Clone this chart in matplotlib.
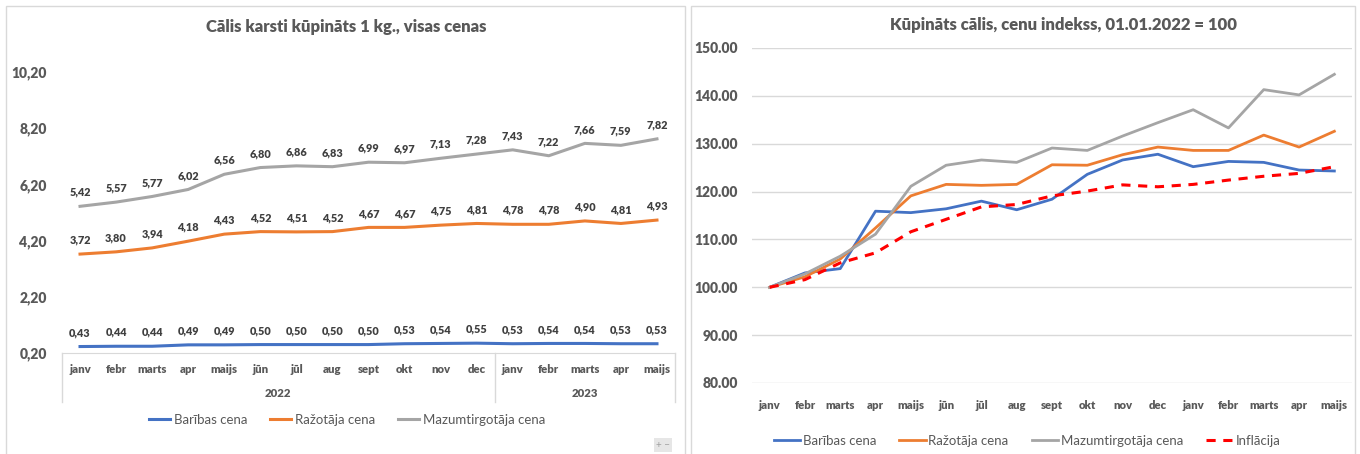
import matplotlib
matplotlib.use('Agg')
import matplotlib.pyplot as plt
from matplotlib.patches import Rectangle
from matplotlib.lines import Line2D

plt.rcParams['font.family'] = ['Lato', 'DejaVu Sans']

W, H = 1360, 454
HEAVY = 800

months = ['janv', 'febr', 'marts', 'apr', 'maijs', 'jūn', 'jūl', 'aug', 'sept',
          'okt', 'nov', 'dec', 'janv', 'febr', 'marts', 'apr', 'maijs']
years = ['2022', '2023']
year_counts = [12, 5]

# left chart: prices, EUR per kg
feed_price = [0.43, 0.44, 0.44, 0.49, 0.49, 0.50, 0.50, 0.50, 0.50,
              0.53, 0.54, 0.55, 0.53, 0.54, 0.54, 0.53, 0.53]
producer_price = [3.72, 3.80, 3.94, 4.18, 4.43, 4.52, 4.51, 4.52, 4.67,
                  4.67, 4.75, 4.81, 4.78, 4.78, 4.90, 4.81, 4.93]
retail_price = [5.42, 5.57, 5.77, 6.02, 6.56, 6.80, 6.86, 6.83, 6.99,
                6.97, 7.13, 7.28, 7.43, 7.22, 7.66, 7.59, 7.82]

# right chart: index, 01.01.2022 = 100
feed_index = [100.0, 103.0, 103.9, 115.9, 115.6, 116.4, 118.0, 116.2, 118.4,
              123.6, 126.6, 127.8, 125.2, 126.3, 126.1, 124.5, 124.3]
producer_index = [100.0, 102.2, 105.9, 112.4, 119.1, 121.5, 121.3, 121.5, 125.6,
                  125.5, 127.7, 129.3, 128.6, 128.6, 131.8, 129.3, 132.6]
retail_index = [100.0, 102.8, 106.5, 111.1, 121.1, 125.5, 126.6, 126.1, 129.1,
                128.6, 131.6, 134.4, 137.1, 133.3, 141.3, 140.2, 144.5]
inflation_index = [100.0, 101.6, 105.1, 107.2, 111.6, 114.2, 116.8, 117.3, 119.1,
                   120.1, 121.4, 121.0, 121.5, 122.4, 123.2, 123.8, 125.2]

BLUE = '#4472C4'
ORANGE = '#ED7D31'
GRAY = '#A5A5A5'
RED = '#FF0000'
TXT = '#595959'
LBL = '#404040'
GRID = '#D9D9D9'


def fig_rect(x0, y0, x1, y1):
    '''pixel box (top-left origin) to figure fraction rect'''
    return [x0 / W, 1 - y1 / H, (x1 - x0) / W, (y1 - y0) / H]


fig = plt.figure(figsize=(W / 100, H / 100), dpi=100)
fig.patch.set_facecolor('white')

# panel borders
for x0, x1 in [(6, 685), (691, 1355)]:
    fig.add_artist(Rectangle((x0 / W, -0.05), (x1 - x0) / W, 1.05 - 6 / H,
                             transform=fig.transFigure, fill=False,
                             ec=GRID, lw=1))

x = list(range(len(months)))

# ---------------- left chart ----------------
ax = fig.add_axes(fig_rect(62, 72, 675, 353))
ax.plot(x, feed_price, color=BLUE, lw=2.2, label='Barības cena')
ax.plot(x, producer_price, color=ORANGE, lw=2.2, label='Ražotāja cena')
ax.plot(x, retail_price, color=GRAY, lw=2.2, label='Mazumtirgotāja cena')
for series in (feed_price, producer_price, retail_price):
    for i, v in enumerate(series):
        ax.annotate(f'{v:.2f}'.replace('.', ','), (i, v), xytext=(0, 10),
                    textcoords='offset points', ha='center', va='center',
                    fontsize=7.8, fontweight=HEAVY, color=LBL)
ax.set_xlim(-0.5, len(months) - 0.5)
ax.set_ylim(0.2, 10.2)
yt = [0.2 + 2 * k for k in range(6)]
ax.set_yticks(yt)
ax.set_yticklabels([f'{v:.2f}'.replace('.', ',') for v in yt],
                   fontsize=10, fontweight=HEAVY, color=TXT)
ax.set_xticks(x)
ax.set_xticklabels(months, fontsize=8.2, fontweight=HEAVY, color=TXT)
ax.tick_params(axis='y', length=0, pad=11)
ax.tick_params(axis='x', length=0, pad=8)
for s in ('top', 'right', 'left'):
    ax.spines[s].set_visible(False)
ax.spines['bottom'].set_color(GRID)
# category group box and year labels
box_bottom = -(402 - 353) / (353 - 72)
trans = ax.get_xaxis_transform()
start = 0
bounds = [-0.5]
for yr, n in zip(years, year_counts):
    ax.text(start + (n - 1) / 2, -(393 - 353) / (353 - 72), yr, transform=trans,
            ha='center', va='center', fontsize=8.2, fontweight=HEAVY, color=TXT)
    start += n
    bounds.append(start - 0.5)
for b in bounds:
    ax.add_line(Line2D([b, b], [0, box_bottom], transform=trans, color=GRID,
                       lw=1, clip_on=False))
ax.set_title('Cālis karsti kūpināts 1 kg., visas cenas', fontsize=12,
             fontweight=HEAVY, color=TXT, pad=0, x=(346 - 62) / (675 - 62),
             y=(353 - 27) / (353 - 72), va='center')
fig.legend(*ax.get_legend_handles_labels(), loc='center', ncol=3,
           bbox_to_anchor=(347 / W, 1 - 420 / H), frameon=False, fontsize=9.5,
           labelcolor=TXT, handlelength=1.6, columnspacing=1.7,
           handletextpad=0.3)

# zoom control in the corner
fig.text(663 / W, 1 - 445 / H, '+ −', ha='center', va='center', fontsize=7,
         color='#A0A0A0',
         bbox=dict(boxstyle='square,pad=0.25', fc='#E6E6E6', ec='none'))

# ---------------- right chart ----------------
ax2 = fig.add_axes(fig_rect(752, 48, 1352, 383))
ax2.plot(x, feed_index, color=BLUE, lw=2, label='Barības cena')
ax2.plot(x, producer_index, color=ORANGE, lw=2, label='Ražotāja cena')
ax2.plot(x, retail_index, color=GRAY, lw=2, label='Mazumtirgotāja cena')
ax2.plot(x, inflation_index, color=RED, lw=2.2, ls=(0, (3, 2.5)),
         label='Inflācija')
ax2.set_xlim(-0.5, len(months) - 0.5)
ax2.set_ylim(80, 150)
yt2 = list(range(80, 151, 10))
ax2.set_yticks(yt2)
ax2.set_yticklabels([f'{v:.2f}' for v in yt2], fontsize=10,
                    fontweight=HEAVY, color=TXT)
ax2.set_xticks(x)
ax2.set_xticklabels(months, fontsize=8.2, fontweight=HEAVY, color=TXT)
ax2.tick_params(axis='y', length=0, pad=10)
ax2.tick_params(axis='x', length=0, pad=12)
ax2.grid(axis='y', color=GRID, lw=1)
ax2.set_axisbelow(True)
for s in ax2.spines.values():
    s.set_visible(False)
ax2.set_title('Kūpināts cālis, cenu indekss, 01.01.2022 = 100', fontsize=12,
              fontweight=HEAVY, color=TXT, pad=0,
              x=(1064 - 752) / (1352 - 752), y=(383 - 25) / (383 - 48),
              va='center')
fig.legend(*ax2.get_legend_handles_labels(), loc='center', ncol=4,
           bbox_to_anchor=(1027 / W, 1 - 441 / H), frameon=False, fontsize=9.5,
           labelcolor=TXT, handlelength=2.0, columnspacing=1.75,
           handletextpad=0.2)

fig.savefig('out.png', dpi=100, facecolor='white')
